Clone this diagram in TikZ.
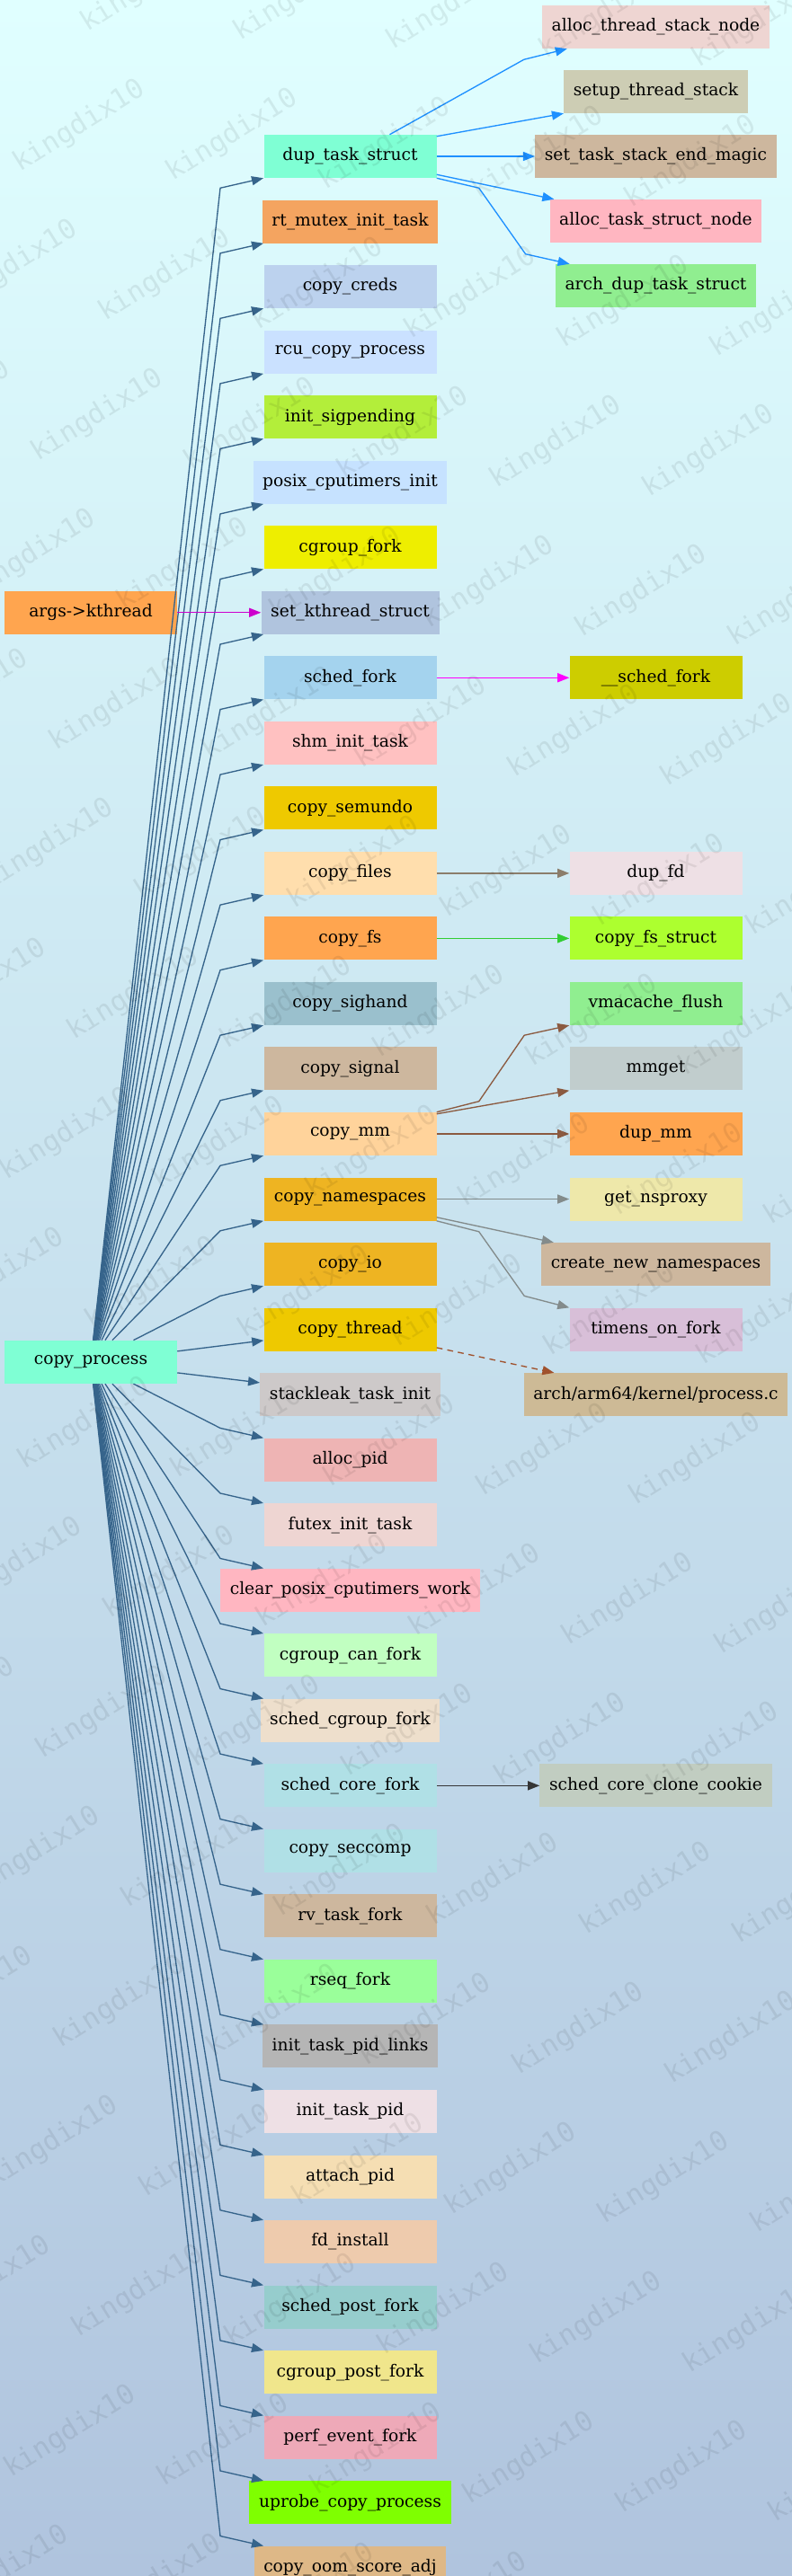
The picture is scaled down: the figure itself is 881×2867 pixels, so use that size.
\documentclass[tikz,border=0pt]{standalone}
\usepackage{fontspec}
\setmainfont{DejaVu Serif}
\newfontfamily\wmfont{DejaVu Sans Mono}
\usepackage{tikz}
\usetikzlibrary{arrows.meta,positioning,calc}
\definecolor{bgtop}{HTML}{E0FFFF}
\definecolor{bgbottom}{HTML}{B0C4DE}
\definecolor{edgesteel}{HTML}{36648B}
\definecolor{edgedodger}{HTML}{1E90FF}
\definecolor{edgemagenta}{HTML}{CD00CD}
\definecolor{edgefuchsia}{HTML}{FF00FF}
\definecolor{edgebisque}{HTML}{8B7D6B}
\definecolor{edgelime}{HTML}{32CD32}
\definecolor{edgebrown}{HTML}{8B5A40}
\definecolor{edgegray}{HTML}{838B8B}
\definecolor{edgesienna}{HTML}{A0522D}
\definecolor{edgedark}{HTML}{363636}
\definecolor{fnaqua}{HTML}{7FFFD4}
\definecolor{fnsandy}{HTML}{F4A460}
\definecolor{fnsteeltwo}{HTML}{BCD2EE}
\definecolor{fnsteelone}{HTML}{CAE1FF}
\definecolor{fnolive}{HTML}{B3EE3A}
\definecolor{fnslate}{HTML}{C6E2FF}
\definecolor{fnyellow}{HTML}{EEEE00}
\definecolor{fnsteel}{HTML}{B0C4DE}
\definecolor{fnsky}{HTML}{A4D3EE}
\definecolor{fnrosy}{HTML}{FFC1C1}
\definecolor{fngold}{HTML}{EEC900}
\definecolor{fnnavajo}{HTML}{FFDEAD}
\definecolor{fntan}{HTML}{FFA54F}
\definecolor{fnlightblue}{HTML}{9AC0CD}
\definecolor{fnbisque}{HTML}{CDB79E}
\definecolor{fnburlyone}{HTML}{FFD39B}
\definecolor{fngoldenrod}{HTML}{EEB422}
\definecolor{fnsnow}{HTML}{CDC9C9}
\definecolor{fnrosytwo}{HTML}{EEB4B4}
\definecolor{fnmisty}{HTML}{EED5D2}
\definecolor{fnpink}{HTML}{FFB6C1}
\definecolor{fnseagreen}{HTML}{C1FFC1}
\definecolor{fnantique}{HTML}{EEDFCC}
\definecolor{fnpowder}{HTML}{B0E0E6}
\definecolor{fnpalegreen}{HTML}{9AFF9A}
\definecolor{fngray}{HTML}{B5B5B5}
\definecolor{fnlavender}{HTML}{EEE0E5}
\definecolor{fnwheat}{HTML}{F5DEB3}
\definecolor{fnpeach}{HTML}{EECBAD}
\definecolor{fnturquoise}{HTML}{96CDCD}
\definecolor{fnkhaki}{HTML}{F0E68C}
\definecolor{fnpinktwo}{HTML}{EEA9B8}
\definecolor{fnchartreuse}{HTML}{7FFF00}
\definecolor{fnburly}{HTML}{DEB887}
\definecolor{fnlightyellow}{HTML}{CDCDB4}
\definecolor{fnlightgreen}{HTML}{90EE90}
\definecolor{fnyellowthree}{HTML}{CDCD00}
\definecolor{fngreenyellow}{HTML}{ADFF2F}
\definecolor{fnazure}{HTML}{C1CDCD}
\definecolor{fnpalegold}{HTML}{EEE8AA}
\definecolor{fnthistle}{HTML}{D8BFD8}
\definecolor{fnwheatthree}{HTML}{CDBA96}
\definecolor{fnhoneydew}{HTML}{C1CDC1}

\begin{document}
\begin{tikzpicture}[
  x=0.75pt, y=-0.75pt,
  >={Triangle[length=9.75pt,width=7.5pt]},
  fn/.style={rectangle, fill=#1, minimum width=144pt, minimum height=36pt, inner xsep=8pt, inner ysep=0pt, font=\fontsize{14pt}{16pt}\selectfont},
  link/.style={->, line width=1pt, draw=#1},
  wmark/.style={font=\wmfont\fontsize{23pt}{23pt}\selectfont, text=black, opacity=0.075, rotate=32, anchor=base west, inner sep=0pt}
]
  \useasboundingbox (0,0) rectangle (881,2867);
  \shade[top color=bgtop, bottom color=bgbottom] (0,0) rectangle (881,2867);
  \coordinate (lcol) at (101,0);
  \coordinate (rcol) at (729.5,0);
  \coordinate (midl) at (293,0);

  % Middle column: callees of copy_process
  \node[fn=fnaqua] (dup) at (389.5,174) {dup\_task\_struct};
  \node[fn=fnsandy, below=18pt of dup] (rtm) {rt\_mutex\_init\_task};
  \node[fn=fnsteeltwo, below=18pt of rtm] (creds) {copy\_creds};
  \node[fn=fnsteelone, below=18pt of creds] (rcu) {rcu\_copy\_process};
  \node[fn=fnolive, below=18pt of rcu] (sigp) {init\_sigpending};
  \node[fn=fnslate, below=18pt of sigp] (posix) {posix\_cputimers\_init};
  \node[fn=fnyellow, below=18pt of posix] (cgfork) {cgroup\_fork};
  \node[fn=fnsteel, below=18pt of cgfork] (setk) {set\_kthread\_struct};
  \node[fn=fnsky, below=18pt of setk] (sfork) {sched\_fork};
  \node[fn=fnrosy, below=18pt of sfork] (shm) {shm\_init\_task};
  \node[fn=fngold, below=18pt of shm] (semundo) {copy\_semundo};
  \node[fn=fnnavajo, below=18pt of semundo] (cfiles) {copy\_files};
  \node[fn=fntan, below=18pt of cfiles] (cfs) {copy\_fs};
  \node[fn=fnlightblue, below=18pt of cfs] (sighand) {copy\_sighand};
  \node[fn=fnbisque, below=18pt of sighand] (csignal) {copy\_signal};
  \node[fn=fnburlyone, below=18pt of csignal] (cmm) {copy\_mm};
  \node[fn=fngoldenrod, below=18pt of cmm] (cns) {copy\_namespaces};
  \node[fn=fngoldenrod, below=18pt of cns] (cio) {copy\_io};
  \node[fn=fngold, below=18pt of cio] (cthr) {copy\_thread};
  \node[fn=fnsnow, below=18pt of cthr] (stack) {stackleak\_task\_init};
  \node[fn=fnrosytwo, below=18pt of stack] (apid) {alloc\_pid};
  \node[fn=fnmisty, below=18pt of apid] (futex) {futex\_init\_task};
  \node[fn=fnpink, below=18pt of futex] (clrpos) {clear\_posix\_cputimers\_work};
  \node[fn=fnseagreen, below=18pt of clrpos] (cgcan) {cgroup\_can\_fork};
  \node[fn=fnantique, below=18pt of cgcan] (scgf) {sched\_cgroup\_fork};
  \node[fn=fnpowder, below=18pt of scgf] (score) {sched\_core\_fork};
  \node[fn=fnpowder, below=18pt of score] (seccomp) {copy\_seccomp};
  \node[fn=fnbisque, below=18pt of seccomp] (rv) {rv\_task\_fork};
  \node[fn=fnpalegreen, below=18pt of rv] (rseq) {rseq\_fork};
  \node[fn=fngray, below=18pt of rseq] (pidlinks) {init\_task\_pid\_links};
  \node[fn=fnlavender, below=18pt of pidlinks] (itpid) {init\_task\_pid};
  \node[fn=fnwheat, below=18pt of itpid] (attpid) {attach\_pid};
  \node[fn=fnpeach, below=18pt of attpid] (fdinst) {fd\_install};
  \node[fn=fnturquoise, below=18pt of fdinst] (spost) {sched\_post\_fork};
  \node[fn=fnkhaki, below=18pt of spost] (cgpost) {cgroup\_post\_fork};
  \node[fn=fnpinktwo, below=18pt of cgpost] (perf) {perf\_event\_fork};
  \node[fn=fnchartreuse, below=18pt of perf] (uprobe) {uprobe\_copy\_process};
  \node[fn=fnburly, below=18pt of uprobe] (oom) {copy\_oom\_score\_adj};

  % Left column
  \coordinate (cpmid) at ($(cthr)!0.5!(stack)$);
  \node[fn=fnaqua] (cp) at (cpmid -| lcol) {copy\_process};
  \node[fn=fntan] (args) at (setk -| lcol) {args->kthread};

  % Right column: second level callees
  \node[fn=fnmisty] (atsn) at ($(dup -| rcol)+(0,-144)$) {alloc\_thread\_stack\_node};
  \node[fn=fnlightyellow] (sts) at ($(dup -| rcol)+(0,-72)$) {setup\_thread\_stack};
  \node[fn=fnbisque] (magic) at (dup -| rcol) {set\_task\_stack\_end\_magic};
  \node[fn=fnpink] (atsnode) at ($(dup -| rcol)+(0,72)$) {alloc\_task\_struct\_node};
  \node[fn=fnlightgreen] (adts) at ($(dup -| rcol)+(0,144)$) {arch\_dup\_task\_struct};
  \node[fn=fnyellowthree] (ssfork) at (sfork -| rcol) {\_\_sched\_fork};
  \node[fn=fnlavender] (dupfd) at (cfiles -| rcol) {dup\_fd};
  \node[fn=fngreenyellow] (fsstruct) at (cfs -| rcol) {copy\_fs\_struct};
  \node[fn=fnlightgreen] (vmf) at (sighand -| rcol) {vmacache\_flush};
  \node[fn=fnazure] (mmget) at (csignal -| rcol) {mmget};
  \node[fn=fntan] (dupmm) at (cmm -| rcol) {dup\_mm};
  \node[fn=fnpalegold] (nsproxy) at (cns -| rcol) {get\_nsproxy};
  \node[fn=fnbisque] (cnn) at (cio -| rcol) {create\_new\_namespaces};
  \node[fn=fnthistle] (timens) at (cthr -| rcol) {timens\_on\_fork};
  \node[fn=fnwheatthree] (archc) at (stack -| rcol) {arch/arm64/kernel/process.c};
  \node[fn=fnhoneydew] (cookie) at (score -| rcol) {sched\_core\_clone\_cookie};

  % copy_process fan-out
  \foreach \t in {dup,rtm,creds,rcu,sigp,posix,cgfork,setk,sfork,shm,semundo,cfiles,cfs,sighand,csignal,cmm,cns,cio}
    \draw[link=edgesteel] (cp) -- ($(\t.south -| midl)+(-48,11)$) -- (\t.south -| midl);
  \draw[link=edgesteel] ([shift={(0,-12)}]cp.east) -- ([shift={(0,-12)}]cthr.south west);
  \draw[link=edgesteel] ([shift={(0,12)}]cp.east) -- ([shift={(0,11)}]stack.north west);
  \foreach \t in {apid,futex,clrpos,cgcan,scgf,score,seccomp,rv,rseq,pidlinks,itpid,attpid,fdinst,spost,cgpost,perf,uprobe,oom}
    \draw[link=edgesteel] (cp) -- ($(\t.north -| midl)+(-48,-11)$) -- (\t.north -| midl);

  % dup_task_struct callees
  \draw[link=edgedodger] ([shift={(44,0)}]dup.north) -- ([shift={(-20,12)}]atsn.south west) -- ([shift={(28,0)}]atsn.south west);
  \draw[link=edgedodger] ([shift={(0,2)}]dup.north east) -- (sts.south west);
  \draw[link=edgedodger] (dup.east) -- (magic.west);
  \draw[link=edgedodger] ([shift={(0,-4)}]dup.south east) -- ([shift={(5,0)}]atsnode.north west);
  \draw[link=edgedodger] (dup.south east) -- ([shift={(47,11)}]dup.south east) -- ([shift={(-33,-11)}]adts.north west) -- ([shift={(16,0)}]adts.north west);

  % Other callees
  \draw[link=edgemagenta] (args.east) -- (setk.west);
  \draw[link=edgefuchsia] (sfork.east) -- (ssfork.west);
  \draw[link=edgebisque] (cfiles.east) -- (dupfd.west);
  \draw[link=edgelime] (cfs.east) -- (fsstruct.west);
  \draw[link=edgebrown] (cmm.north east) -- ([shift={(47,-12)}]cmm.north east) -- ([shift={(-50,11)}]vmf.south west) -- (vmf.south west);
  \draw[link=edgebrown] ([shift={(0,2)}]cmm.north east) -- (mmget.south west);
  \draw[link=edgebrown] (cmm.east) -- (dupmm.west);
  \draw[link=edgegray] (cns.east) -- (nsproxy.west);
  \draw[link=edgegray] ([shift={(0,-4)}]cns.south east) -- ([shift={(14,0)}]cnn.north west);
  \draw[link=edgegray] (cns.south east) -- ([shift={(47,12)}]cns.south east) -- ([shift={(-50,-13)}]timens.north west) -- (timens.north west);
  \draw[link=edgesienna, dash pattern=on 5pt off 4pt] ([shift={(0,-4)}]cthr.south east) -- ([shift={(34,0)}]archc.north west);
  \draw[link=edgedark] (score.east) -- (cookie.west);

  % Watermark
  \begin{scope}
    \clip (0,0) rectangle (881,2867);
    \foreach \i in {-2,...,13}
      \foreach \j in {-2,...,18} {
        \pgfmathsetmacro\wx{22+170*\i-75*\j}
        \pgfmathsetmacro\wy{192+10*\i+156*\j}
        \ifdim\wx pt>-140pt \ifdim\wx pt<870pt \ifdim\wy pt>10pt \ifdim\wy pt<2950pt
          \node[wmark] at (\wx,\wy) {kingdix10};
        \fi\fi\fi\fi
      }
  \end{scope}
\end{tikzpicture}
\end{document}
